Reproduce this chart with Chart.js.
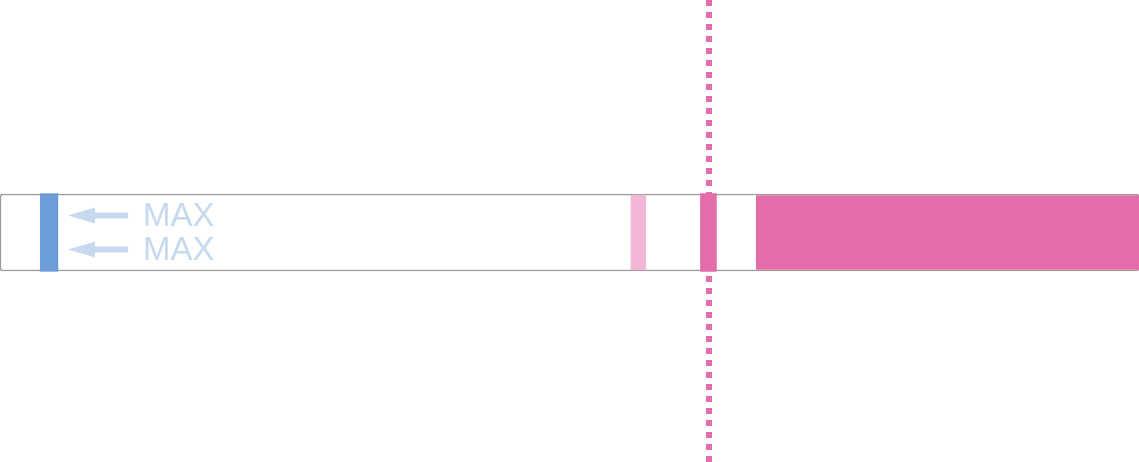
<!DOCTYPE html>
<html>
<head>
<meta charset="utf-8">
<script src="https://cdn.jsdelivr.net/npm/chart.js@4"></script>
<style>
    html, body { margin: 0; padding: 0; background: #fff; }
    #wrap { width: 1139px; height: 462px; position: relative; }
</style>
</head>
<body>
<div id="wrap"><canvas id="gauge"></canvas></div>
<script>
// Scale runs 0..100 across the full width
const categories = ['Range'];
const trackRange = [0, 100];
const maxMarker = [3.5, 5.1];
const lightMarker = [55.4, 56.7];
const pinkMarker = [61.5, 62.9];
const pinkBand = [66.4, 100];
const targetValue = 62.25;
const maxLabels = ['MAX', 'MAX'];

// dotted target line + MAX arrows
const overlayPlugin = {
    id: 'overlay',
    beforeDatasetsDraw(chart) {
        const ctx = chart.ctx;
        const x = chart.scales.x.getPixelForValue(targetValue);
        ctx.save();
        ctx.strokeStyle = '#e46ca9';
        ctx.lineWidth = 6;
        ctx.setLineDash([6, 6]);
        ctx.beginPath();
        ctx.moveTo(x, 0);
        ctx.lineTo(x, chart.height);
        ctx.stroke();
        ctx.restore();
    },
    afterDatasetsDraw(chart) {
        const ctx = chart.ctx;
        const xs = chart.scales.x;
        const start = xs.getPixelForValue(maxMarker[1]) + 10;
        const mid = chart.scales.y.getPixelForValue(0);
        const rows = [mid - 17, mid + 17];
        ctx.save();
        ctx.fillStyle = '#c6d9ef';
        ctx.strokeStyle = '#c6d9ef';
        ctx.font = '33px "Liberation Sans", Arial, sans-serif';
        ctx.textBaseline = 'middle';
        rows.forEach((y, i) => {
            ctx.beginPath();
            ctx.moveTo(start, y);
            ctx.lineTo(start + 27, y - 8);
            ctx.lineTo(start + 27, y + 8);
            ctx.closePath();
            ctx.fill();
            ctx.fillRect(start + 24, y - 3, 36, 6);
            ctx.fillText(maxLabels[i], start + 75, y + 1);
        });
        ctx.restore();
    }
};

new Chart(document.getElementById('gauge'), {
    type: 'bar',
    data: {
        labels: categories,
        datasets: [
            {
                label: 'Max',
                data: [maxMarker],
                backgroundColor: '#6c9dd8',
                borderColor: '#5d8fce',
                borderWidth: 1,
                barThickness: 78,
                order: 1
            },
            {
                label: 'Marker',
                data: [pinkMarker],
                backgroundColor: '#e46ca9',
                borderWidth: 0,
                barThickness: 78,
                order: 2
            },
            {
                label: 'Previous',
                data: [lightMarker],
                backgroundColor: '#f2b6d6',
                borderWidth: 0,
                barThickness: 75,
                order: 3
            },
            {
                label: 'Band',
                data: [pinkBand],
                backgroundColor: '#e46ca9',
                borderWidth: 0,
                barThickness: 74,
                order: 4
            },
            {
                label: 'Track',
                data: [trackRange],
                backgroundColor: '#ffffff',
                borderColor: '#9a9a9a',
                borderWidth: 1.5,
                borderRadius: 3,
                borderSkipped: false,
                barThickness: 77,
                order: 5
            }
        ]
    },
    options: {
        indexAxis: 'y',
        responsive: true,
        maintainAspectRatio: false,
        animation: false,
        grouped: false,
        layout: { padding: { top: 3 } },
        plugins: {
            legend: { display: false },
            tooltip: { enabled: false }
        },
        scales: {
            x: { display: false, min: 0, max: 100 },
            y: { display: false }
        }
    },
    plugins: [overlayPlugin]
});
</script>
</body>
</html>
